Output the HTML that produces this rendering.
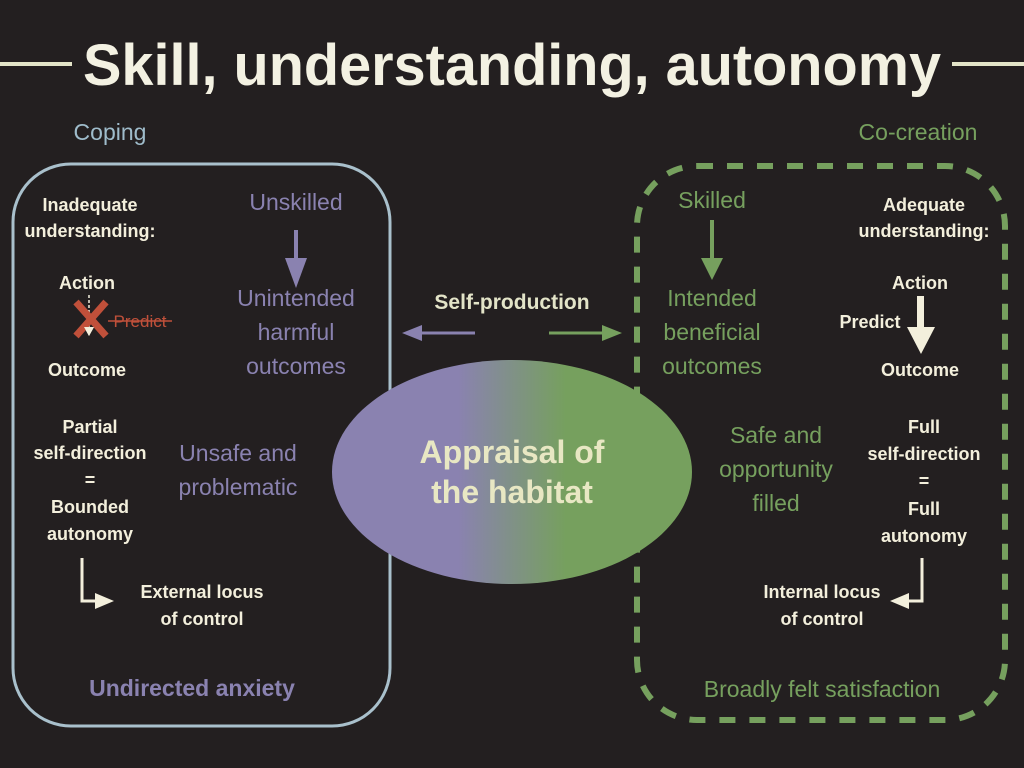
<!DOCTYPE html>
<html><head><meta charset="utf-8"><style>
html,body{margin:0;padding:0;background:#231f20;}
svg{display:block}
text{font-family:"Liberation Sans",sans-serif;}
</style></head><body>
<svg width="1024" height="768" viewBox="0 0 1024 768" xmlns="http://www.w3.org/2000/svg">
<defs>
<linearGradient id="g" x1="0" x2="1" y1="0" y2="0">
<stop offset="0" stop-color="#8a82b0"/><stop offset="0.35" stop-color="#8a82b0"/>
<stop offset="0.65" stop-color="#76a05e"/><stop offset="1" stop-color="#76a05e"/>
</linearGradient>
</defs>
<rect width="1024" height="768" fill="#231f20"/>
<line x1="0" y1="64" x2="72" y2="64" stroke="#e3e4c8" stroke-width="4"/>
<line x1="952" y1="64" x2="1024" y2="64" stroke="#e3e4c8" stroke-width="4"/>
<text x="512" y="85" text-anchor="middle" font-size="58" font-weight="bold" fill="#f3f1e2" textLength="858" lengthAdjust="spacingAndGlyphs">Skill, understanding, autonomy</text>
<text x="110" y="140" text-anchor="middle" font-size="23" fill="#9fbccb">Coping</text>
<text x="918" y="140" text-anchor="middle" font-size="23" fill="#76a05e">Co-creation</text>

<rect x="13" y="164" width="377" height="562" rx="58" fill="none" stroke="#a9c0cc" stroke-width="3"/>
<rect x="637" y="166" width="368" height="554" rx="60" fill="none" stroke="#76a05e" stroke-width="6" stroke-dasharray="16,14"/>

<ellipse cx="512" cy="472" rx="180" ry="112" fill="url(#g)"/>
<text x="512" y="463" text-anchor="middle" font-size="32" font-weight="bold" fill="#e8e7c3">Appraisal of</text>
<text x="512" y="503" text-anchor="middle" font-size="32" font-weight="bold" fill="#e8e7c3">the habitat</text>

<g font-size="18" font-weight="bold" fill="#f3efdc" text-anchor="middle">
<text x="90" y="211">Inadequate</text><text x="90" y="237">understanding:</text>
<text x="87" y="289">Action</text><text x="87" y="376">Outcome</text>
<text x="90" y="433">Partial</text><text x="90" y="459">self-direction</text><text x="90" y="486">=</text>
<text x="90" y="513">Bounded</text><text x="90" y="540">autonomy</text>
<text x="202" y="598">External locus</text><text x="202" y="625">of control</text>
<text x="924" y="211">Adequate</text><text x="924" y="237">understanding:</text>
<text x="920" y="289">Action</text><text x="920" y="376">Outcome</text>
<text x="870" y="328">Predict</text>
<text x="924" y="433">Full</text><text x="924" y="460">self-direction</text><text x="924" y="487">=</text>
<text x="924" y="515">Full</text><text x="924" y="542">autonomy</text>
<text x="822" y="598">Internal locus</text><text x="822" y="625">of control</text>
</g>
<line x1="89" y1="295" x2="89" y2="328" stroke="#f3efdc" stroke-width="1.5" stroke-dasharray="3,2"/>
<path d="M84 327 L94 327 L89 336 Z" fill="#f3efdc"/>
<path d="M76 302 L106 336 M106 302 L76 336" stroke="#c0503a" stroke-width="7"/>
<path d="M84 327 L94 327 L89 336 Z" fill="#f3efdc"/>
<text x="140" y="327" text-anchor="middle" font-size="17" fill="#c0503a">Predict</text>
<line x1="108" y1="321" x2="172" y2="321" stroke="#c0503a" stroke-width="1.5"/>

<rect x="917" y="296" width="7" height="32" fill="#f3efdc"/>
<path d="M907 327 L935 327 L921 354 Z" fill="#f3efdc"/>

<path d="M82 558 V601 H96" fill="none" stroke="#f3efdc" stroke-width="3"/>
<path d="M95 593 L114 601 L95 609 Z" fill="#f3efdc"/>
<path d="M922 558 V601 H908" fill="none" stroke="#f3efdc" stroke-width="3"/>
<path d="M909 593 L890 601 L909 609 Z" fill="#f3efdc"/>

<g font-size="23" fill="#8a82b0" text-anchor="middle">
<text x="296" y="210">Unskilled</text>
<text x="296" y="306">Unintended</text><text x="296" y="340">harmful</text><text x="296" y="374">outcomes</text>
<text x="238" y="461">Unsafe and</text><text x="238" y="495">problematic</text>
</g>
<rect x="294" y="230" width="4" height="30" fill="#8a82b0"/>
<path d="M285 258 L307 258 L296 288 Z" fill="#8a82b0"/>
<text x="192" y="696" text-anchor="middle" font-size="23" font-weight="bold" fill="#8a82b0">Undirected anxiety</text>

<g font-size="23" fill="#76a05e" text-anchor="middle">
<text x="712" y="208">Skilled</text>
<text x="712" y="306">Intended</text><text x="712" y="340">beneficial</text><text x="712" y="374">outcomes</text>
<text x="776" y="443">Safe and</text><text x="776" y="477">opportunity</text><text x="776" y="511">filled</text>
<text x="822" y="697">Broadly felt satisfaction</text>
</g>
<rect x="710" y="220" width="4" height="40" fill="#76a05e"/>
<path d="M701 258 L723 258 L712 280 Z" fill="#76a05e"/>

<text x="512" y="309" text-anchor="middle" font-size="21" font-weight="bold" fill="#e3e4c8">Self-production</text>
<line x1="420" y1="333" x2="475" y2="333" stroke="#8a82b0" stroke-width="3"/>
<path d="M422 325 L402 333 L422 341 Z" fill="#8a82b0"/>
<line x1="549" y1="333" x2="604" y2="333" stroke="#76a05e" stroke-width="3"/>
<path d="M602 325 L622 333 L602 341 Z" fill="#76a05e"/>
</svg>
</body></html>
